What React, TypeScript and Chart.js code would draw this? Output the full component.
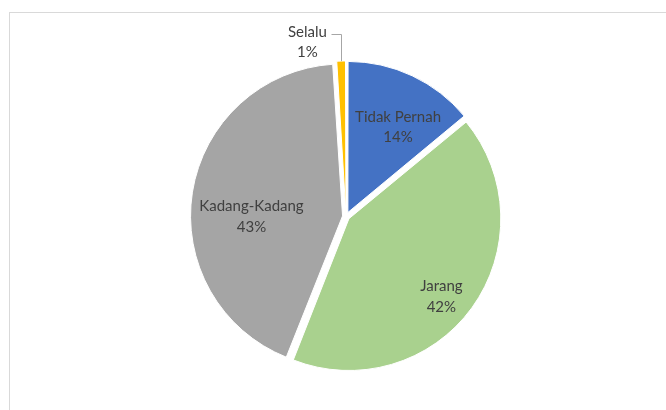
import React, { useEffect, useRef } from "react";
import { Chart, registerables } from "chart.js";

Chart.register(...registerables);

const categories = ["Tidak Pernah", "Jarang", "Kadang-Kadang", "Selalu"];
const values = [14, 42, 43, 1];
const percentLabels = ["14%", "42%", "43%", "1%"];
const colors = ["#4472C4", "#A9D18E", "#A5A5A5", "#FFC000"];

// label placement (style): radial fraction of radius and angle shift (deg) from slice mid angle
const labelRadius = [0.69, 0.83, 0.63, 1.19];
const labelAngleShift = [5, 4, -9, -10.7];
const labelOutside = [false, false, false, true];

const EXPLODE_PX = 5.5;
const RADIUS = 150;
const FONT = "15px Lato";
const TEXT_COLOR = "#404040";
const LINE_GAP = 20.5;

const total = values.reduce((a, b) => a + b, 0);

const framePlugin = {
  id: "frame",
  beforeDraw(chart: any) {
    const ctx = chart.ctx;
    ctx.save();
    ctx.strokeStyle = "#D9D9D9";
    ctx.lineWidth = 1;
    ctx.strokeRect(9.5, 12.5, 720, 460);
    ctx.restore();
  },
};

const labelPlugin = {
  id: "sliceLabels",
  afterDatasetsDraw(chart: any) {
    const ctx = chart.ctx;
    const meta = chart.getDatasetMeta(0);
    ctx.save();
    ctx.font = FONT;
    ctx.fillStyle = TEXT_COLOR;
    ctx.textAlign = "center";
    ctx.textBaseline = "middle";
    meta.data.forEach((arc: any, i: number) => {
      const { x, y, startAngle, endAngle, outerRadius } = arc.getProps(
        ["x", "y", "startAngle", "endAngle", "outerRadius"],
        true
      );
      const mid = (startAngle + endAngle) / 2;
      const a = mid + (labelAngleShift[i] * Math.PI) / 180;
      const d = labelRadius[i] * outerRadius;
      const lx = x + Math.cos(a) * d;
      const ly = y + Math.sin(a) * d;
      const y1 = ly - LINE_GAP / 2;
      const y2 = ly + LINE_GAP / 2;
      ctx.fillText(categories[i], lx, y1);
      ctx.fillText(percentLabels[i], lx, y2);
      if (labelOutside[i]) {
        const w = ctx.measureText(categories[i]).width;
        const ex = x + Math.cos(mid) * (outerRadius + EXPLODE_PX);
        const ey = y + Math.sin(mid) * (outerRadius + EXPLODE_PX);
        const sx = lx + w / 2 + 4;
        const sy = y1 + 2;
        ctx.save();
        ctx.strokeStyle = "#A6A6A6";
        ctx.lineWidth = 1;
        ctx.beginPath();
        ctx.moveTo(Math.round(sx) + 0.5, Math.round(sy) + 0.5);
        ctx.lineTo(Math.round(ex) + 0.5, Math.round(sy) + 0.5);
        ctx.lineTo(Math.round(ex) + 0.5, ey);
        ctx.stroke();
        ctx.restore();
      }
    });
    ctx.restore();
  },
};

export default function App() {
  const ref = useRef<HTMLCanvasElement | null>(null);
  useEffect(() => {
    if (!ref.current) return;
    const chart = new Chart(ref.current, {
      type: "pie",
      data: {
        labels: categories,
        datasets: [
          {
            data: values,
            backgroundColor: colors,
            borderColor: "#FFFFFF",
            borderWidth: 1,
            radius: RADIUS,
            offset: (c: any) => {
              const v = values[c.dataIndex] ?? 0;
              const circ = (v / total) * Math.PI * 2;
              return (4 * EXPLODE_PX) / (2 - Math.sin(Math.min(Math.PI, circ)));
            },
          } as any,
        ],
      },
      options: {
        responsive: false,
        devicePixelRatio: 1,
        animation: false,
        layout: { padding: { left: 176, right: 150, top: 46.5, bottom: 23.5 } },
        plugins: {
          legend: { display: false },
          tooltip: { enabled: false },
        },
      } as any,
      plugins: [framePlugin, labelPlugin],
    });
    return () => chart.destroy();
  }, []);
  return (
    <div style={{ position: "fixed", left: 0, top: 0, width: 666, height: 410, overflow: "hidden", background: "#fff" }}>
      <canvas ref={ref} width={666} height={410} style={{ width: 666, height: 410, display: "block" }} />
    </div>
  );
}
